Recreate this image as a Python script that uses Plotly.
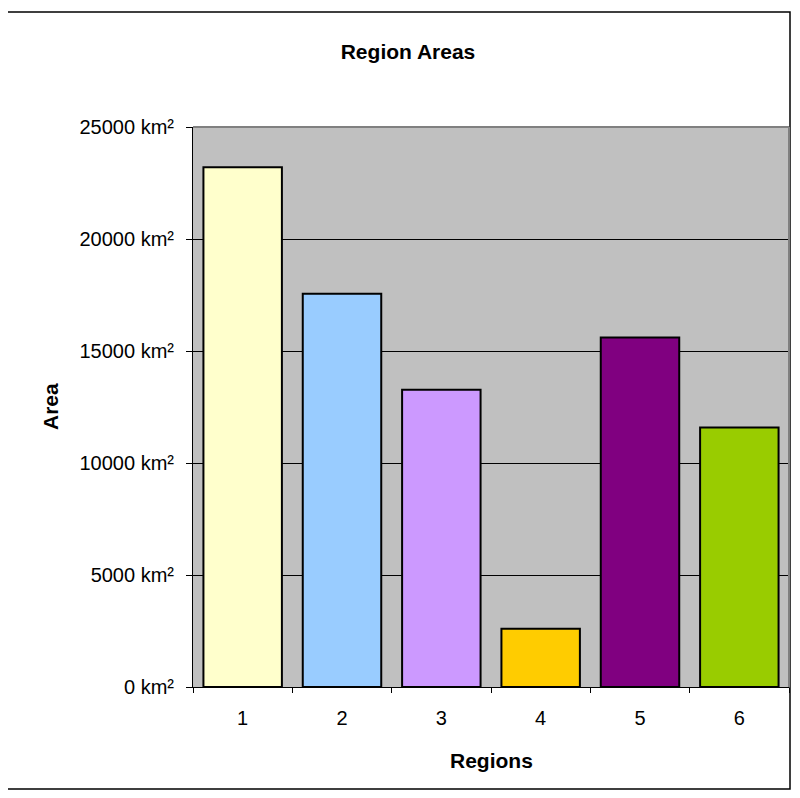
import plotly.graph_objects as go

regions = ["1", "2", "3", "4", "5", "6"]
areas = [23200, 17560, 13270, 2600, 15600, 11580]
colors = ["#FFFFCC", "#99CCFF", "#CC99FF", "#FFCC00", "#800080", "#99CC00"]
y_ticks = [0, 5000, 10000, 15000, 20000, 25000]

OFF = 8  # page body margin
W, H = 784, 782
L, T = 185, 119
pw, ph = 596, 560
R = W - L - pw
B = H - T - ph

def px(xpage):
    return (xpage - OFF - L) / pw

def py(ypage):
    return (OFF + T + ph - ypage) / ph

font = "Liberation Sans, Arial, sans-serif"

fig = go.Figure(go.Bar(
    x=regions, y=areas,
    marker=dict(color=colors, line=dict(color="black", width=2)),
))

fig.update_layout(
    width=W, height=H,
    margin=dict(l=L, r=R, t=T, b=B),
    paper_bgcolor="white",
    plot_bgcolor="#C0C0C0",
    bargap=0.21,
    showlegend=False,
    font=dict(family=font, size=20, color="black"),
    title=dict(text="<b>Region Areas</b>", x=(408 - OFF) / W, xref="container", xanchor="center",
               y=1 - (52 - OFF) / H, yref="container", yanchor="middle",
               font=dict(family=font, size=21, color="black")),
    xaxis=dict(type="category", tickson="boundaries", ticks="outside", ticklen=5,
               tickcolor="black", showline=True, linecolor="black", linewidth=1,
               showgrid=False, ticklabelstandoff=13, tickfont=dict(size=20)),
    yaxis=dict(range=[0, 25000], tickvals=y_ticks,
               ticktext=[f"{v} km²" for v in y_ticks],
               ticks="outside", ticklen=6, tickcolor="black",
               showline=True, linecolor="black", linewidth=1,
               showgrid=True, gridcolor="black", gridwidth=1, zeroline=False,
               ticklabelstandoff=8, tickfont=dict(size=20)),
    annotations=[
        dict(text="<b>Area</b>", xref="paper", yref="paper", x=px(50), y=py(407),
             textangle=-90, showarrow=False, xanchor="center", yanchor="middle",
             font=dict(size=21)),
        dict(text="<b>Regions</b>", xref="paper", yref="paper", x=px(491), y=py(760),
             showarrow=False, xanchor="center", yanchor="middle", font=dict(size=21)),
    ],
    shapes=[
        dict(type="line", xref="paper", yref="paper", x0=0, x1=1, y0=1, y1=1,
             line=dict(color="#808080", width=2), layer="above"),
        dict(type="line", xref="paper", yref="paper", x0=1, x1=1, y0=0, y1=1,
             line=dict(color="#808080", width=2), layer="above"),
        dict(type="rect", xref="paper", yref="paper",
             x0=px(6), x1=px(790), y0=py(12), y1=py(789),
             line=dict(color="black", width=1.5), fillcolor="rgba(0,0,0,0)", layer="below"),
    ],
)

fig.write_html("out.html")
